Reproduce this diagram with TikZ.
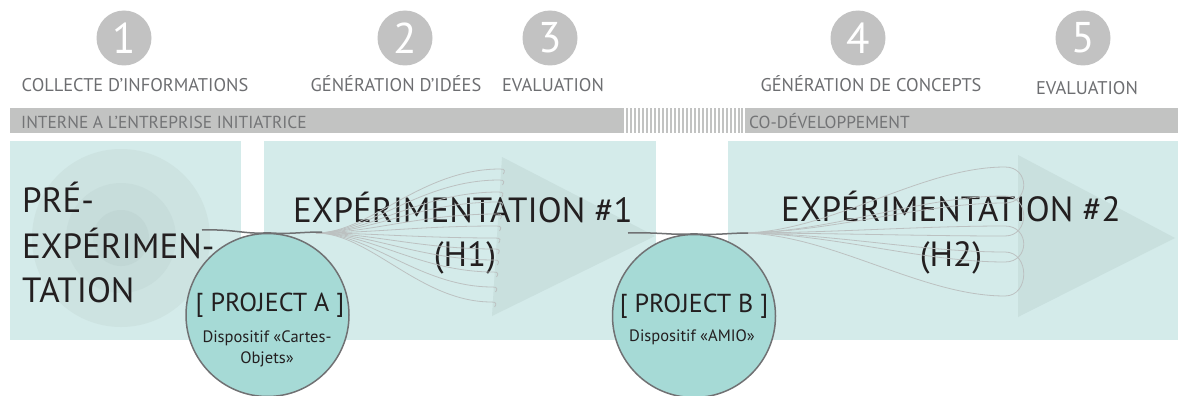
\documentclass[tikz,border=0pt]{standalone}
\usepackage{fontspec}
\setmainfont{PT Sans}
\usetikzlibrary{calc}
\definecolor{numgray}{HTML}{C2C2C2}
\definecolor{labelgray}{HTML}{6D6E71}
\definecolor{bargray}{HTML}{C2C3C2}
\definecolor{bartext}{HTML}{737476}
\definecolor{boxteal}{HTML}{D4EBEA}
\definecolor{concA}{HTML}{CDE3E1}
\definecolor{concB}{HTML}{C7DDDB}
\definecolor{concC}{HTML}{C1D7D5}
\definecolor{trifill}{HTML}{C9E0DE}
\definecolor{fangray}{HTML}{BCC1C1}
\definecolor{projteal}{HTML}{A6DAD6}
\definecolor{projline}{HTML}{707173}
\definecolor{darktext}{HTML}{231F20}
\tikzset{
  numcirc/.style={circle, fill=numgray, minimum size=55pt, inner sep=0pt, text=white, font=\fontsize{43}{43}\selectfont},
  steplabel/.style={anchor=base, text=labelgray, inner sep=0pt, font=\fontsize{18.4}{20}\selectfont},
  bartxt/.style={anchor=base west, text=bartext, inner sep=0pt, font=\fontsize{17.4}{19}\selectfont},
  bigtxt/.style={text=darktext, inner sep=0pt, font=\fontsize{35}{40}\selectfont},
  projcirc/.style={circle, fill=projteal, draw=projline, line width=1.5pt, minimum size=163pt, inner sep=0pt},
  projtitle/.style={anchor=base, text=darktext, inner sep=0pt, font=\fontsize{26}{28}\selectfont},
  projsub/.style={anchor=base, text=darktext, inner sep=0pt, font=\fontsize{16.5}{18}\selectfont},
  fanline/.style={draw=fangray, line width=0.8pt},
  crossline/.style={draw=projline, line width=1.5pt}
}
\begin{document}
\begin{tikzpicture}[x=1pt,y=-1pt]
\useasboundingbox (0,0) rectangle (1178,396);
% step circles
\node[numcirc] (n1) at (124,38) {1};
\node[numcirc] (n2) at (405,38) {2};
\node[numcirc] (n3) at (550,38) {3};
\node[numcirc] (n4) at (858,38) {4};
\node[numcirc] (n5) at (1083,38) {5};
\node[steplabel] (l1) at (135,92) {COLLECTE D’INFORMATIONS};
\node[steplabel] (l2) at (396,92) {GÉNÉRATION D’IDÉES};
\node[steplabel] (l3) at (553,92) {EVALUATION};
\node[steplabel] (l4) at (871,92) {GÉNÉRATION DE CONCEPTS};
\node[steplabel] (l5) at (1087,95) {EVALUATION};
% bar
\fill[bargray] (10,108) rectangle (624,133);
\foreach \i in {0,...,28} {\fill[bargray] (626+\i*4,108) rectangle ++(1.6,25);}
\fill[bargray] (741,108) rectangle (743,133);
\fill[bargray] (745,108) rectangle (1178,133);
\node[bartxt] (b1) at (21,128) {INTERNE A L’ENTREPRISE INITIATRICE};
\node[bartxt] (b2) at (749,128) {CO-DÉVELOPPEMENT};
% boxes
\fill[boxteal] (10,141) rectangle (241,340);
\fill[boxteal] (264,141) rectangle (656,340);
\fill[boxteal] (728,141) rectangle (1178,340);
% concentric circles
\fill[concA] (121,238) circle (89);
\fill[concB] (121,238) circle (55);
\fill[concC] (121,238) circle (28);
% triangles
\fill[trifill] (502,157) -- (655,236) -- (492,316) -- cycle;
\fill[trifill] (1018,155) -- (1175,238) -- (1018,317) -- cycle;
% big texts
\node[bigtxt, anchor=base west] (p1) at (22,212) {PRÉ-};
\node[bigtxt, anchor=base west] (p2) at (22,258) {EXPÉRIMEN-};
\node[bigtxt, anchor=base west] (p3) at (22,302) {TATION};
\node[bigtxt, anchor=base] (e1) at (463,222) {EXPÉRIMENTATION \#1};
\node[bigtxt, anchor=base] (h1) at (465,266) {(H1)};
\node[bigtxt, anchor=base] (e2) at (951,221) {EXPÉRIMENTATION \#2};
\node[bigtxt, anchor=base] (h2) at (951,266) {(H2)};
% fan 1
\coordinate (f1) at (316,233);
\foreach \y in {169,180,192,202,214,226,238,249,260,272,287,302} {
  \pgfmathsetmacro{\ex}{501-(\y-157)*0.065}
  \draw[fanline] (f1) .. controls (370,233) and (420,\y) .. (\ex,\y) .. controls +(5,0) and +(2,-3) .. +(3,5);
}
% fan 2 (petals)
\coordinate (f2) at (740,233);
\foreach \t/\b in {167/203,196/236,226/262,252/296} {
  \draw[fanline] (f2) .. controls (830,233) and (920,\t) .. (1005,\t) .. controls (1030,\t) and (1030,\b) .. (1005,\b) .. controls (920,\b) and (830,233) .. (f2);
}
% project circles
\node[projcirc] (pa) at (267.5,315) {};
\node[projcirc] (pb) at (694,316) {};
\node[projtitle] (pat) at (270,311) {[ PROJECT A ]};
\node[projsub] (pas1) at (267,342) {Dispositif «Cartes-};
\node[projsub] (pas2) at (267,363) {Objets»};
\node[projtitle] (pbt) at (694,312) {[ PROJECT B ]};
\node[projsub] (pbs) at (692,341) {Dispositif «AMIO»};
% crossing lines
\coordinate (a1) at (202,230);
\coordinate (a2) at (322,232);
\coordinate (c1) at (628,233);
\coordinate (c2) at (748,233);
\draw[crossline] (a1) .. controls (235,229) and (245,234.5) .. (pa.north) .. controls (290,234.5) and (300,232) .. (a2);
\draw[crossline] (c1) .. controls (660,232) and (672,235.5) .. (pb.north) .. controls (716,235.5) and (728,233) .. (c2);
\end{tikzpicture}
\end{document}
